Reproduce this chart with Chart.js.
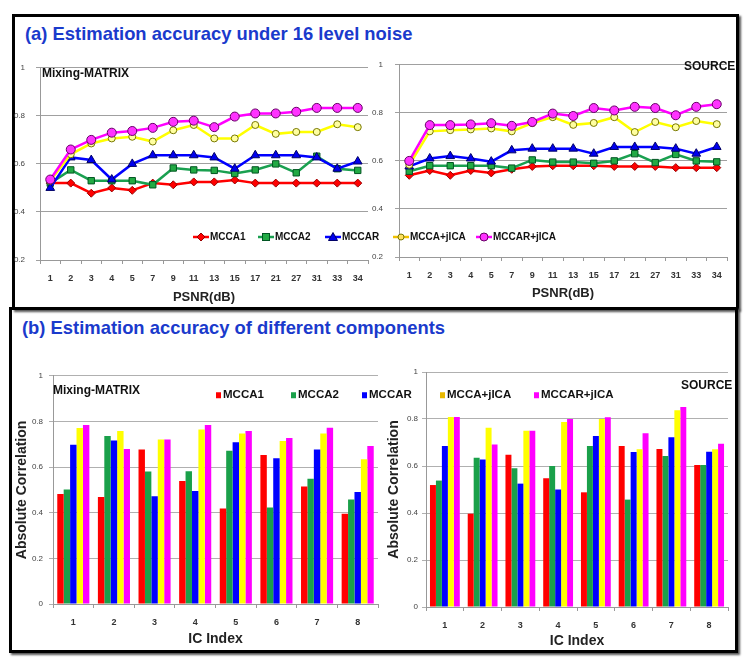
<!DOCTYPE html>
<html><head><meta charset="utf-8">
<script src="https://cdn.jsdelivr.net/npm/chart.js@4"></script>
<style>
body{margin:0;background:#fff;}
#wrap{position:relative;width:752px;height:669px;overflow:hidden;background:#fff;font-family:'Liberation Sans',Arial,sans-serif;}
canvas{position:absolute;}
.box{position:absolute;border:3px solid #000;box-sizing:border-box;box-shadow:2px 2px 2px #555;}
.t{position:absolute;white-space:nowrap;font-weight:bold;line-height:1;transform:translateY(-50%);}
.ttl{color:#1a3acc;font-size:18.4px;}
.lg{position:absolute;white-space:nowrap;font-weight:bold;line-height:1;transform:translateY(-50%);display:flex;align-items:center;color:#111;}
</style></head>
<body>
<div id="wrap">
  <div class="box" style="left:12px;top:14px;width:727px;height:296px;"></div>
  <div class="box" style="left:9px;top:307px;width:729px;height:346px;"></div>
  <div class="t ttl" style="left:25px;top:34px;">(a) Estimation accuracy under 16 level noise</div>
  <div class="t ttl" style="left:22px;top:328px;">(b) Estimation accuracy of different components</div>
  <canvas id="c1"></canvas>
  <canvas id="c2"></canvas>
  <canvas id="c3"></canvas>
  <canvas id="c4"></canvas>
  <div class="t" style="left:42px;top:73px;font-size:12px;color:#111;">Mixing-MATRIX</div>
  <div class="t" style="left:684px;top:66px;font-size:12px;color:#111;">SOURCE</div>
  <div class="t" style="left:53px;top:390px;font-size:12px;color:#111;">Mixing-MATRIX</div>
  <div class="t" style="left:681px;top:385px;font-size:12px;color:#111;">SOURCE</div>
  <div id="legA"></div>
  <div id="legB"></div>
</div>
<script>
// ---- data ----
const seriesNames = ['MCCA1','MCCA2','MCCAR','MCCA+jICA','MCCAR+jICA'];
const psnrLabels = ['1','2','3','4','5','7','9','11','13','15','17','21','27','31','33','34'];
const icLabels = ['1','2','3','4','5','6','7','8'];

// (a) Mixing-MATRIX
const mixMCCA1   = [0.52,0.52,0.478,0.50,0.49,0.52,0.513,0.525,0.525,0.533,0.52,0.52,0.52,0.52,0.52,0.52];
const mixMCCA2   = [0.52,0.575,0.53,0.53,0.53,0.513,0.583,0.575,0.573,0.56,0.575,0.60,0.563,0.632,0.58,0.573];
const mixMCCAR   = [0.50,0.627,0.616,0.535,0.60,0.636,0.636,0.636,0.627,0.58,0.636,0.636,0.636,0.627,0.58,0.61];
const mixMCCAj   = [0.53,0.64,0.685,0.706,0.713,0.693,0.74,0.762,0.706,0.706,0.762,0.725,0.733,0.733,0.765,0.753];
const mixMCCARj  = [0.535,0.66,0.70,0.73,0.737,0.75,0.775,0.78,0.753,0.797,0.81,0.81,0.817,0.833,0.833,0.833];
// (a) SOURCE
const srcMCCA1   = [0.54,0.56,0.54,0.56,0.55,0.565,0.577,0.58,0.58,0.58,0.577,0.577,0.577,0.572,0.572,0.572];
const srcMCCA2   = [0.557,0.58,0.58,0.58,0.58,0.57,0.604,0.595,0.595,0.59,0.60,0.63,0.593,0.627,0.60,0.596];
const srcMCCAR   = [0.577,0.61,0.62,0.61,0.597,0.644,0.651,0.651,0.651,0.63,0.658,0.658,0.658,0.651,0.63,0.658];
const srcMCCAj   = [0.584,0.723,0.728,0.731,0.735,0.723,0.757,0.782,0.75,0.758,0.782,0.72,0.762,0.74,0.766,0.753];
const srcMCCARj  = [0.60,0.749,0.749,0.752,0.757,0.746,0.762,0.797,0.787,0.82,0.81,0.825,0.82,0.79,0.825,0.836];
// (b) Mixing-MATRIX
const barMixMCCA1  = [0.482,0.469,0.677,0.539,0.419,0.653,0.515,0.396];
const barMixMCCA2  = [0.502,0.736,0.581,0.582,0.672,0.423,0.549,0.458];
const barMixMCCAR  = [0.698,0.717,0.472,0.495,0.709,0.639,0.677,0.491];
const barMixMCCAj  = [0.771,0.758,0.721,0.765,0.747,0.714,0.747,0.634];
const barMixMCCARj = [0.784,0.679,0.721,0.784,0.758,0.727,0.772,0.692];
// (b) SOURCE
const barSrcMCCA1  = [0.519,0.397,0.648,0.548,0.488,0.685,0.672,0.604];
const barSrcMCCA2  = [0.538,0.635,0.59,0.60,0.685,0.457,0.643,0.604];
const barSrcMCCAR  = [0.685,0.628,0.525,0.50,0.728,0.66,0.722,0.661];
const barSrcMCCAj  = [0.809,0.763,0.75,0.787,0.80,0.671,0.837,0.671];
const barSrcMCCARj = [0.809,0.691,0.75,0.80,0.807,0.739,0.851,0.695];

// ---- styles ----
const lineStyles = [
  {line:'#ff0000', bg:'#ff0000', bd:'#990000', ps:'rectRot', r:4},
  {line:'#1aa050', bg:'#22aa44', bd:'#005522', ps:'rect', r:4.5},
  {line:'#0000ff', bg:'#0000ee', bd:'#000066', ps:'triangle', r:5},
  {line:'#ffff00', bg:'#ffffa0', bd:'#777700', ps:'circle', r:3.5},
  {line:'#ff00ff', bg:'#ff33ff', bd:'#660066', ps:'circle', r:4.5}
];
const barColors = ['#ff0000','#1aa04a','#0000ff','#ffff00','#ff00ff'];
const FONT = "'Liberation Sans', Arial, sans-serif";
const fmt = (v)=> String(Math.round(v*10)/10);

function setup(id, cv){
  const c = document.getElementById(id);
  c.width = cv.w; c.height = cv.h;
  c.style.left = cv.x+'px'; c.style.top = cv.y+'px';
  c.style.width = cv.w+'px'; c.style.height = cv.h+'px';
  return c;
}

function makeLine(id, cv, plot, series, yTickGap){
  const c = setup(id, cv);
  const datasets = series.map((d,i)=>({
    label: seriesNames[i], data: d,
    borderColor: lineStyles[i].line, backgroundColor: lineStyles[i].bg,
    pointBackgroundColor: lineStyles[i].bg, pointBorderColor: lineStyles[i].bd,
    pointBorderWidth: 1, pointStyle: lineStyles[i].ps, pointRadius: lineStyles[i].r,
    borderWidth: 2.5, tension: 0, order: 5-i, fill:false
  }));
  return new Chart(c, {
    type:'line',
    data:{labels: psnrLabels, datasets},
    options:{
      responsive:false, animation:false, devicePixelRatio:1,
      layout:{padding:{top: plot.t-cv.y, right: cv.x+cv.w-plot.r, left:0, bottom:0}},
      plugins:{legend:{display:false}, tooltip:{enabled:false}},
      scales:{
        x:{offset:true,
          grid:{display:true, drawOnChartArea:false, drawTicks:true, tickLength:4, offset:true, color:'#999'},
          border:{color:'#999'},
          ticks:{font:{family:FONT,size:9,weight:'bold'}, color:'#333', padding:9, maxRotation:0, autoSkip:false},
          title:{display:true, text:'PSNR(dB)', font:{family:FONT,size:13,weight:'bold'}, color:'#222', padding:0},
          afterFit:(s)=>{ s.height = cv.y+cv.h-plot.b; }
        },
        y:{min:0.2, max:1,
          grid:{color:'#a0a0a0', tickLength:4, drawTicks:true},
          border:{color:'#999'},
          ticks:{stepSize:0.2, font:{family:FONT,size:8}, color:'#444', padding:yTickGap, callback:fmt},
          afterFit:(s)=>{ s.width = plot.l-cv.x; }
        }
      }
    }
  });
}

function makeBar(id, cv, plot, series, yTickGap){
  const c = setup(id, cv);
  const datasets = series.map((d,i)=>({
    label: seriesNames[i], data: d, backgroundColor: barColors[i], borderWidth:0,
    barPercentage:1, categoryPercentage:0.79
  }));
  return new Chart(c, {
    type:'bar',
    data:{labels: icLabels, datasets},
    options:{
      responsive:false, animation:false, devicePixelRatio:1,
      layout:{padding:{top: plot.t-cv.y, right: cv.x+cv.w-plot.r, left:plot.padL, bottom:0}},
      plugins:{legend:{display:false}, tooltip:{enabled:false}},
      scales:{
        x:{
          grid:{display:true, drawOnChartArea:false, drawTicks:true, tickLength:4, offset:true, color:'#999'},
          border:{color:'#999'},
          ticks:{font:{family:FONT,size:9,weight:'bold'}, color:'#333', padding:9, maxRotation:0},
          title:{display:true, text:'IC Index', font:{family:FONT,size:14,weight:'bold'}, color:'#222', padding:0},
          afterFit:(s)=>{ s.height = cv.y+cv.h-plot.b; }
        },
        y:{min:0, max:1,
          grid:{color:'#b0b0b0', tickLength:4, drawTicks:true},
          border:{color:'#999'},
          ticks:{stepSize:0.2, font:{family:FONT,size:8}, color:'#444', padding:yTickGap, callback:fmt},
          title:{display:true, text:'Absolute Correlation', font:{family:FONT,size:14,weight:'bold'}, color:'#222', padding:0},
          afterFit:(s)=>{ s.width = plot.l-cv.x-plot.padL; }
        }
      }
    }
  });
}

makeLine('c1', {x:14,y:52,w:360,h:253}, {l:40,r:368,t:62,b:260},
  [mixMCCA1,mixMCCA2,mixMCCAR,mixMCCAj,mixMCCARj], 11);
makeLine('c2', {x:360,y:48,w:373,h:253}, {l:399,r:728,t:58,b:257},
  [srcMCCA1,srcMCCA2,srcMCCAR,srcMCCAj,srcMCCARj], 12);
makeBar('c3', {x:12,y:365,w:370,h:283}, {l:53,r:378,t:375,b:604,padL:1.6},
  [barMixMCCA1,barMixMCCA2,barMixMCCAR,barMixMCCAj,barMixMCCARj], 6);
makeBar('c4', {x:384,y:362,w:349,h:288}, {l:426,r:728,t:372,b:607,padL:1.6},
  [barSrcMCCA1,barSrcMCCA2,barSrcMCCAR,barSrcMCCAj,barSrcMCCARj], 4);

// ---- legends ----
function markerSVG(i){
  const s = lineStyles[i];
  let m='';
  const cx=8, cy=5;
  if(s.ps==='rectRot') m=`<polygon points="${cx},${cy-4} ${cx+4},${cy} ${cx},${cy+4} ${cx-4},${cy}" fill="${s.bg}" stroke="${s.bd}" stroke-width="1"/>`;
  else if(s.ps==='rect') m=`<rect x="${cx-3.5}" y="${cy-3.5}" width="7" height="7" fill="${s.bg}" stroke="${s.bd}" stroke-width="1"/>`;
  else if(s.ps==='triangle') m=`<polygon points="${cx},${cy-4.5} ${cx+4.5},${cy+3.5} ${cx-4.5},${cy+3.5}" fill="${s.bg}" stroke="${s.bd}" stroke-width="1"/>`;
  else m=`<circle cx="${cx}" cy="${cy}" r="${s.r-0.5}" fill="${i===3?'#ffe060':s.bg}" stroke="${s.bd}" stroke-width="1"/>`;
  return `<svg width="16" height="10" style="margin-right:1px"><line x1="0" y1="5" x2="16" y2="5" stroke="${i===3?'#f0c000':s.line}" stroke-width="2.5"/>${m}</svg>`;
}
const legAX = [193,258,325,393,476];
const legA = document.getElementById('legA');
seriesNames.forEach((n,i)=>{
  const d=document.createElement('div'); d.className='lg';
  d.style.left=legAX[i]+'px'; d.style.top='237px'; d.style.fontSize='10px';
  d.innerHTML = markerSVG(i)+'<span>'+n+'</span>';
  legA.appendChild(d);
});
const legBX = [216,291,362,440,534];
const legB = document.getElementById('legB');
seriesNames.forEach((n,i)=>{
  const d=document.createElement('div'); d.className='lg';
  d.style.left=legBX[i]+'px'; d.style.top='395px'; d.style.fontSize='11.5px';
  d.innerHTML = `<span style="display:inline-block;width:5px;height:6px;background:${i===3?'#e8b800':barColors[i]};margin-right:2px"></span><span>${n}</span>`;
  legB.appendChild(d);
});
</script>
</body></html>
